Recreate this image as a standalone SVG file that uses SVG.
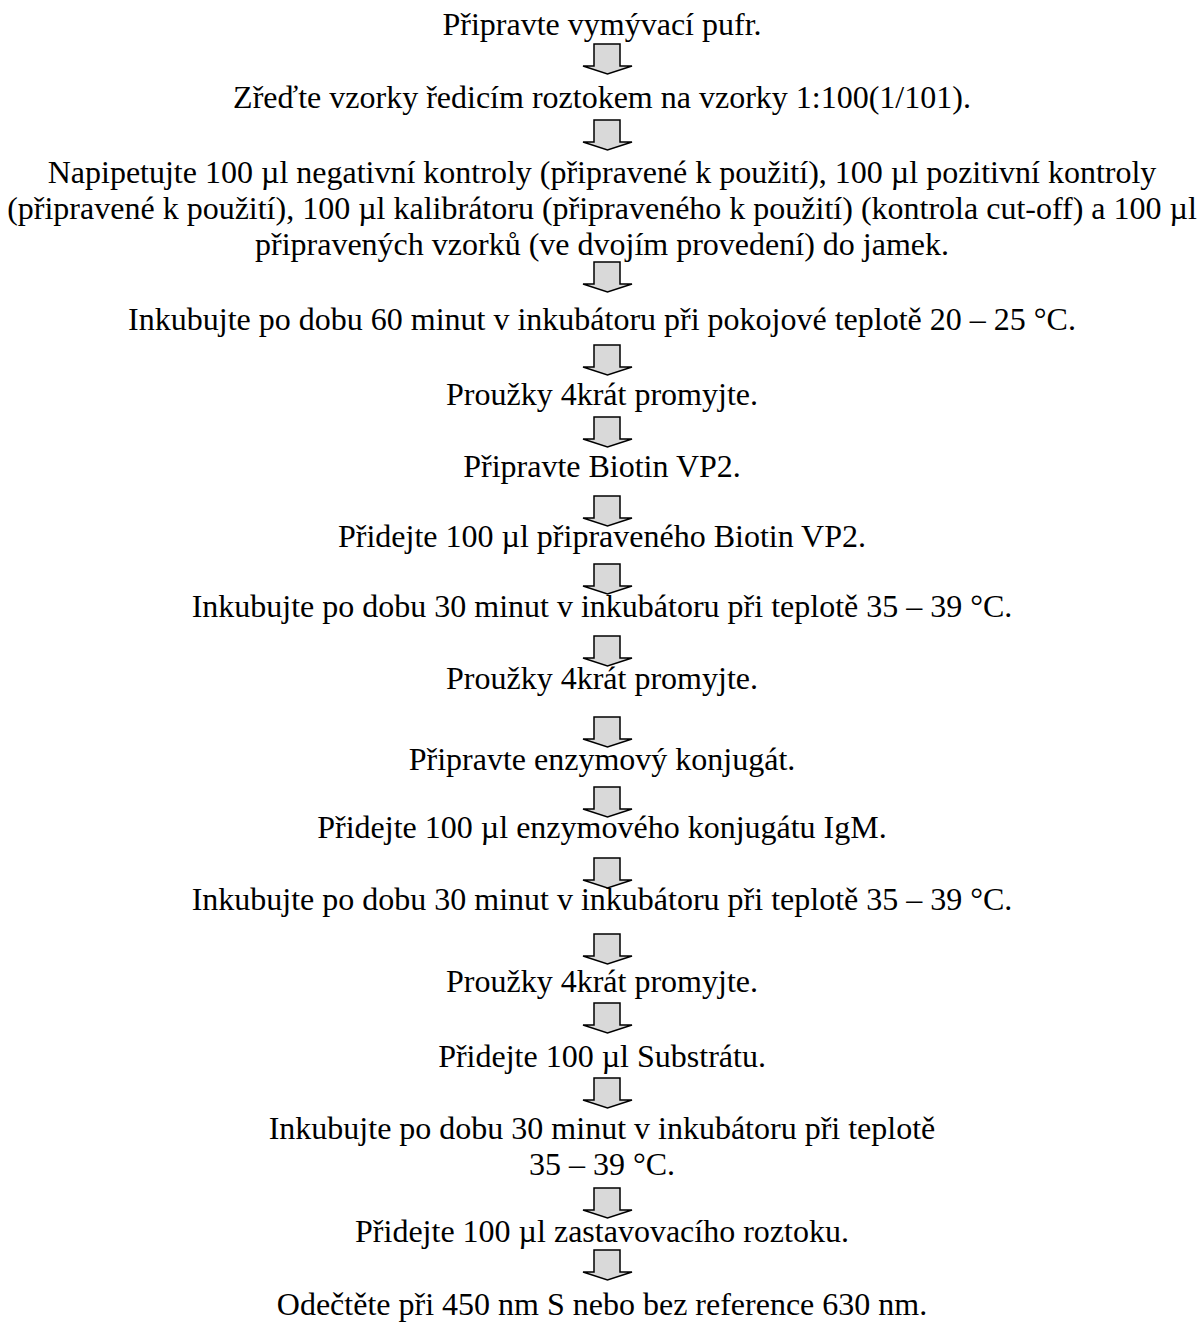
<svg xmlns="http://www.w3.org/2000/svg" xmlns:xlink="http://www.w3.org/1999/xlink" width="1204" height="1329" viewBox="0 0 1204 1329">
<style>
text{font-family:"Liberation Serif","Times New Roman",serif;font-size:32px;fill:#000;text-anchor:middle}
.arr{fill:#d9d9d9;stroke:#000;stroke-width:1.5;stroke-linejoin:miter}
</style>
<defs>
<path id="a" class="arr" d="M594,0 H620 V22 H632 L607.5,30 L583,22 H594 Z"/>
</defs>
<rect width="1204" height="1329" fill="#fff"/>
<g id="n1"><text x="602" y="35">Připravte vymývací pufr.</text></g>
<g id="n2"><text x="602" y="108">Zřeďte vzorky ředicím roztokem na vzorky 1:100(1/101).</text></g>
<g id="n3"><text x="602" y="183">Napipetujte 100 µl negativní kontroly (připravené k použití), 100 µl pozitivní kontroly</text><text x="602" y="219">(připravené k použití), 100 µl kalibrátoru (připraveného k použití) (kontrola cut-off) a 100 µl</text><text x="602" y="255">připravených vzorků (ve dvojím provedení) do jamek.</text></g>
<g id="n4"><text x="602" y="330">Inkubujte po dobu 60 minut v inkubátoru při pokojové teplotě 20 – 25 °C.</text></g>
<g id="n5"><text x="602" y="405">Proužky 4krát promyjte.</text></g>
<g id="n6"><text x="602" y="477">Připravte Biotin VP2.</text></g>
<g id="n7"><text x="602" y="547">Přidejte 100 µl připraveného Biotin VP2.</text></g>
<g id="n8"><text x="602" y="617">Inkubujte po dobu 30 minut v inkubátoru při teplotě 35 – 39 °C.</text></g>
<g id="n9"><text x="602" y="689">Proužky 4krát promyjte.</text></g>
<g id="n10"><text x="602" y="770">Připravte enzymový konjugát.</text></g>
<g id="n11"><text x="602" y="838">Přidejte 100 µl enzymového konjugátu IgM.</text></g>
<g id="n12"><text x="602" y="910">Inkubujte po dobu 30 minut v inkubátoru při teplotě 35 – 39 °C.</text></g>
<g id="n13"><text x="602" y="992">Proužky 4krát promyjte.</text></g>
<g id="n14"><text x="602" y="1067">Přidejte 100 µl Substrátu.</text></g>
<g id="n15"><text x="602" y="1139">Inkubujte po dobu 30 minut v inkubátoru při teplotě</text><text x="602" y="1175">35 – 39 °C.</text></g>
<g id="n16"><text x="602" y="1242">Přidejte 100 µl zastavovacího roztoku.</text></g>
<g id="n17"><text x="602" y="1315">Odečtěte při 450 nm S nebo bez reference 630 nm.</text></g>
<g id="connectors">
<use xlink:href="#a" y="44"/>
<use xlink:href="#a" y="120"/>
<use xlink:href="#a" y="262"/>
<use xlink:href="#a" y="345"/>
<use xlink:href="#a" y="417"/>
<use xlink:href="#a" y="496"/>
<use xlink:href="#a" y="564"/>
<use xlink:href="#a" y="636"/>
<use xlink:href="#a" y="717"/>
<use xlink:href="#a" y="787"/>
<use xlink:href="#a" y="858"/>
<use xlink:href="#a" y="934"/>
<use xlink:href="#a" y="1003"/>
<use xlink:href="#a" y="1078"/>
<use xlink:href="#a" y="1188"/>
<use xlink:href="#a" y="1250"/>
</g>
</svg>
